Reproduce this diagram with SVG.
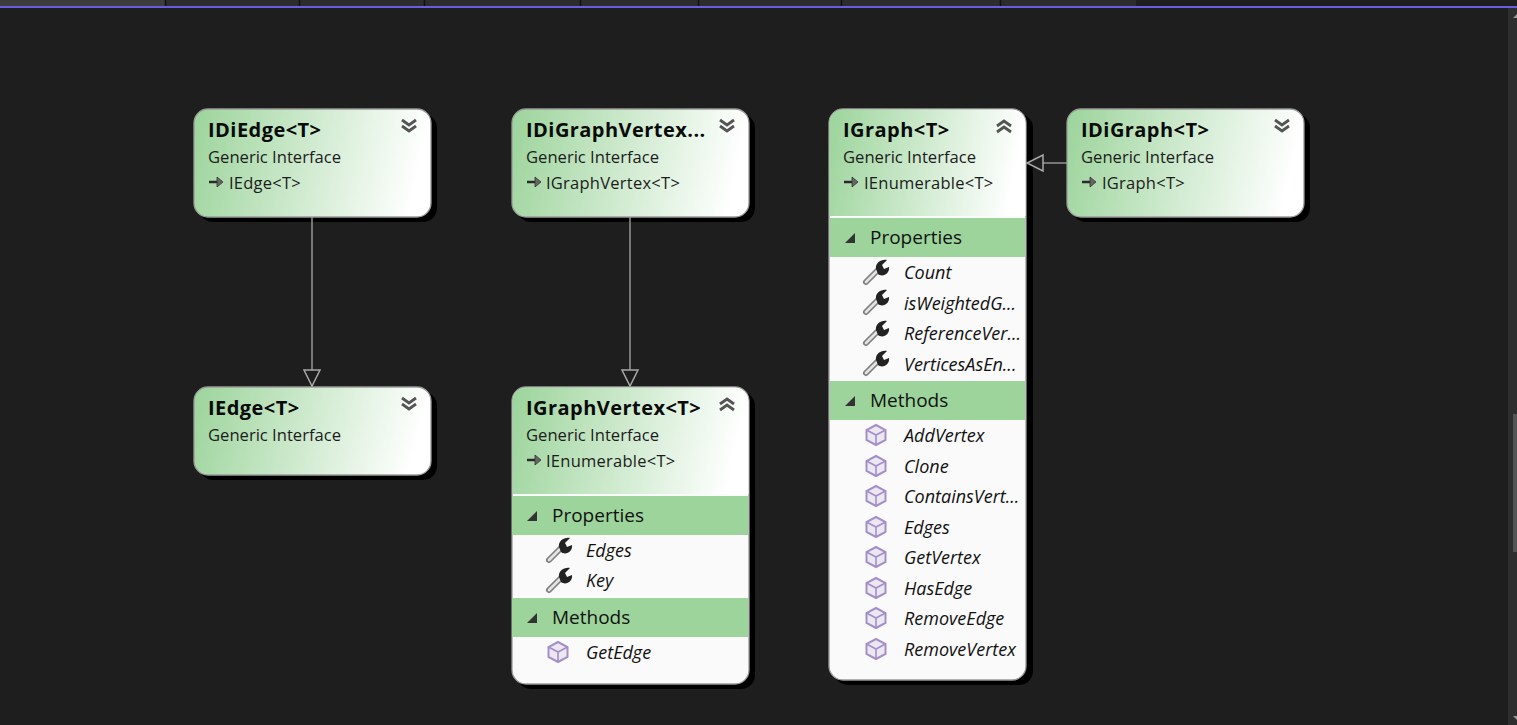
<svg xmlns="http://www.w3.org/2000/svg" width="1517" height="725" viewBox="0 0 1517 725">
<style>
text{font-family:"Open Sans","Noto Sans","Liberation Sans",sans-serif;fill:#111}
.t{font-size:20px;font-weight:700;fill:#0a0a0a;letter-spacing:.45px}
.s{font-size:16.600px;fill:#1c1c1c}
.i{font-size:16.500px;fill:#1c1c1c;letter-spacing:.25px}
.h{font-size:19px;fill:#111}
.m{font-size:18px;font-style:italic;fill:#111}
.box{stroke:#9a9a9a;stroke-width:1.300}
.band{fill:#9cd49b}
.conn{stroke:#a8a8a8;stroke-width:1.300;fill:none}
.head{stroke:#a8a8a8;stroke-width:1.500;fill:#1e1e1e}
</style>
<defs>
<linearGradient id="g" x1="0" y1="0" x2="1" y2="0.1"><stop offset="0" stop-color="#9cd49b"/><stop offset="1" stop-color="#ffffff"/></linearGradient>
<g id="dn"><path d="M-7,-7 L0,-2 L7,-7 M-7,-1 L0,4 L7,-1" fill="none" stroke="#555" stroke-width="2.800"/></g>
<g id="up"><path d="M-7,-1 L0,-6 L7,-1 M-7,5 L0,0 L7,5" fill="none" stroke="#555" stroke-width="2.800"/></g>
<g id="arr"><path d="M0,0 H9" stroke="#2a2a2a" stroke-width="2.500"/><path d="M8,-5 L14,0 L8,5Z" fill="#666" stroke="#333" stroke-width=".8"/></g>
<path id="tri" d="M5,-5 V5 H-5Z" fill="#333"/>
<g id="wr"><path d="M-10,10 L3,-3" stroke="#7f7f7f" stroke-width="6" stroke-linecap="round"/><path d="M-10,10 L3,-3" stroke="#e4e4e4" stroke-width="2.600" stroke-linecap="round"/><path d="M0,-3 C-1,-9 5,-13 11,-12 L6,-7 L8,-3 L13,-5 C14,1 7,6 2,2Z" fill="#222"/></g>
<g id="cu"><path d="M0,-10 L9.500,-5 V5 L0,10 L-9.500,5 V-5Z" fill="#ece8f2" stroke="#a48ec8" stroke-width="2"/><path d="M-9.500,-5 L0,0 L9.500,-5 M0,0 V10" fill="none" stroke="#a48ec8" stroke-width="1.600"/></g>
</defs>
<rect width="1517" height="725" fill="#1e1e1e"/>
<g id="chrome">
<rect x="0" y="0" width="165" height="6" fill="#3d3d3d"/>
<rect x="166" y="0" width="970" height="6" fill="#2d2d2d"/>
<path d="M165.500,0V6M299.500,0V6M424.500,0V6M580.500,0V6M698.500,0V6M841.500,0V6M1000.500,0V6" stroke="#111" stroke-width="1.500"/>
<rect x="0" y="6" width="1517" height="2" fill="#6e5ce0"/>
<rect x="1508" y="8" width="9" height="717" fill="#2e2e2e"/>
<rect x="1513" y="414" width="4" height="138" fill="#555"/>
<path d="M1513,18 L1517,14 V18Z" fill="#999"/>
<path d="M1513,716 H1517 V720Z" fill="#999"/>
</g>
<g id="IDiEdge">
<rect x="199" y="114" width="238" height="108" rx="14" fill="#000"/>
<rect class="box" x="194" y="109" width="237" height="108" rx="14" fill="url(#g)"/>
<text class="t" x="208" y="137">IDiEdge&lt;T&gt;</text>
<use href="#dn" x="409" y="127"/>
<text class="s" x="208" y="163">Generic Interface</text>
<use href="#arr" x="209" y="182"/>
<text class="i" x="229" y="189">IEdge&lt;T&gt;</text>
</g>
<g id="IDiGraphVertex">
<rect x="517" y="114" width="238" height="108" rx="14" fill="#000"/>
<rect class="box" x="512" y="109" width="237" height="108" rx="14" fill="url(#g)"/>
<text class="t" x="526" y="137">IDiGraphVertex...</text>
<use href="#dn" x="727" y="127"/>
<text class="s" x="526" y="163">Generic Interface</text>
<use href="#arr" x="527" y="182"/>
<text class="i" x="546" y="189">IGraphVertex&lt;T&gt;</text>
</g>
<g id="IEdge">
<rect x="199" y="392" width="238" height="88" rx="14" fill="#000"/>
<rect class="box" x="194" y="387" width="237" height="88" rx="14" fill="url(#g)"/>
<text class="t" x="208" y="415">IEdge&lt;T&gt;</text>
<use href="#dn" x="409" y="405"/>
<text class="s" x="208" y="441">Generic Interface</text>
</g>
<g id="IGraphVertex">
<rect x="517" y="392" width="238" height="297" rx="14" fill="#000"/>
<rect class="box" x="512" y="387" width="237" height="297" rx="14" fill="#fafafa"/>
<path d="M512.500,494 V401 A14,14 0 0 1 526,387.500 H735 A14,14 0 0 1 748.500,401 V494Z" fill="url(#g)"/>
<text class="t" x="526" y="415">IGraphVertex&lt;T&gt;</text>
<use href="#up" x="727" y="405"/>
<text class="s" x="526" y="441">Generic Interface</text>
<use href="#arr" x="527" y="460"/>
<text class="i" x="546" y="467">IEnumerable&lt;T&gt;</text>
<rect class="band" x="512" y="496" width="236" height="39"/>
<use href="#tri" x="532" y="516"/>
<text class="h" x="552" y="522">Properties</text>
<use href="#wr" x="559" y="550"/>
<text class="m" x="586" y="557">Edges</text>
<use href="#wr" x="559" y="580"/>
<text class="m" x="586" y="587">Key</text>
<rect class="band" x="512" y="598" width="236" height="39"/>
<use href="#tri" x="532" y="618"/>
<text class="h" x="552" y="624">Methods</text>
<use href="#cu" x="558" y="652"/>
<text class="m" x="586" y="659">GetEdge</text>
</g>
<g id="IGraph">
<rect x="834" y="114" width="199" height="571" rx="14" fill="#000"/>
<rect class="box" x="829" y="109" width="197" height="571" rx="14" fill="#fafafa"/>
<path d="M829.500,216 V123 A14,14 0 0 1 843,109.500 H1012 A14,14 0 0 1 1025.500,123 V216Z" fill="url(#g)"/>
<text class="t" x="843" y="137">IGraph&lt;T&gt;</text>
<use href="#up" x="1004" y="127"/>
<text class="s" x="843" y="163">Generic Interface</text>
<use href="#arr" x="844" y="182"/>
<text class="i" x="864" y="189">IEnumerable&lt;T&gt;</text>
<rect class="band" x="830" y="218" width="195" height="39"/>
<use href="#tri" x="850" y="238"/>
<text class="h" x="870" y="244">Properties</text>
<use href="#wr" x="876" y="272"/>
<text class="m" x="904" y="279">Count</text>
<use href="#wr" x="876" y="302"/>
<text class="m" x="904" y="310">isWeightedG...</text>
<use href="#wr" x="876" y="333"/>
<text class="m" x="904" y="340">ReferenceVer...</text>
<use href="#wr" x="876" y="363"/>
<text class="m" x="904" y="371">VerticesAsEn...</text>
<rect class="band" x="830" y="381" width="195" height="39"/>
<use href="#tri" x="850" y="401"/>
<text class="h" x="870" y="407">Methods</text>
<use href="#cu" x="876" y="435"/>
<text class="m" x="904" y="442">AddVertex</text>
<use href="#cu" x="876" y="466"/>
<text class="m" x="904" y="473">Clone</text>
<use href="#cu" x="876" y="496"/>
<text class="m" x="904" y="503">ContainsVert...</text>
<use href="#cu" x="876" y="527"/>
<text class="m" x="904" y="534">Edges</text>
<use href="#cu" x="876" y="557"/>
<text class="m" x="904" y="564">GetVertex</text>
<use href="#cu" x="876" y="588"/>
<text class="m" x="904" y="595">HasEdge</text>
<use href="#cu" x="876" y="618"/>
<text class="m" x="904" y="625">RemoveEdge</text>
<use href="#cu" x="876" y="649"/>
<text class="m" x="904" y="656">RemoveVertex</text>
</g>
<g id="IDiGraph">
<rect x="1072" y="114" width="238" height="108" rx="14" fill="#000"/>
<rect class="box" x="1067" y="109" width="237" height="108" rx="14" fill="url(#g)"/>
<text class="t" x="1081" y="137">IDiGraph&lt;T&gt;</text>
<use href="#dn" x="1282" y="127"/>
<text class="s" x="1081" y="163">Generic Interface</text>
<use href="#arr" x="1082" y="182"/>
<text class="i" x="1102" y="189">IGraph&lt;T&gt;</text>
</g>
<g id="connectors">
<path class="conn" d="M312,217 V370"/><path class="head" d="M304,370 H320 L312,386Z"/>
<path class="conn" d="M630,217 V370"/><path class="head" d="M622,370 H638 L630,386Z"/>
<path class="conn" d="M1067,163 H1043"/><path class="head" d="M1043,155 V171 L1027,163Z"/>
</g>
</svg>
